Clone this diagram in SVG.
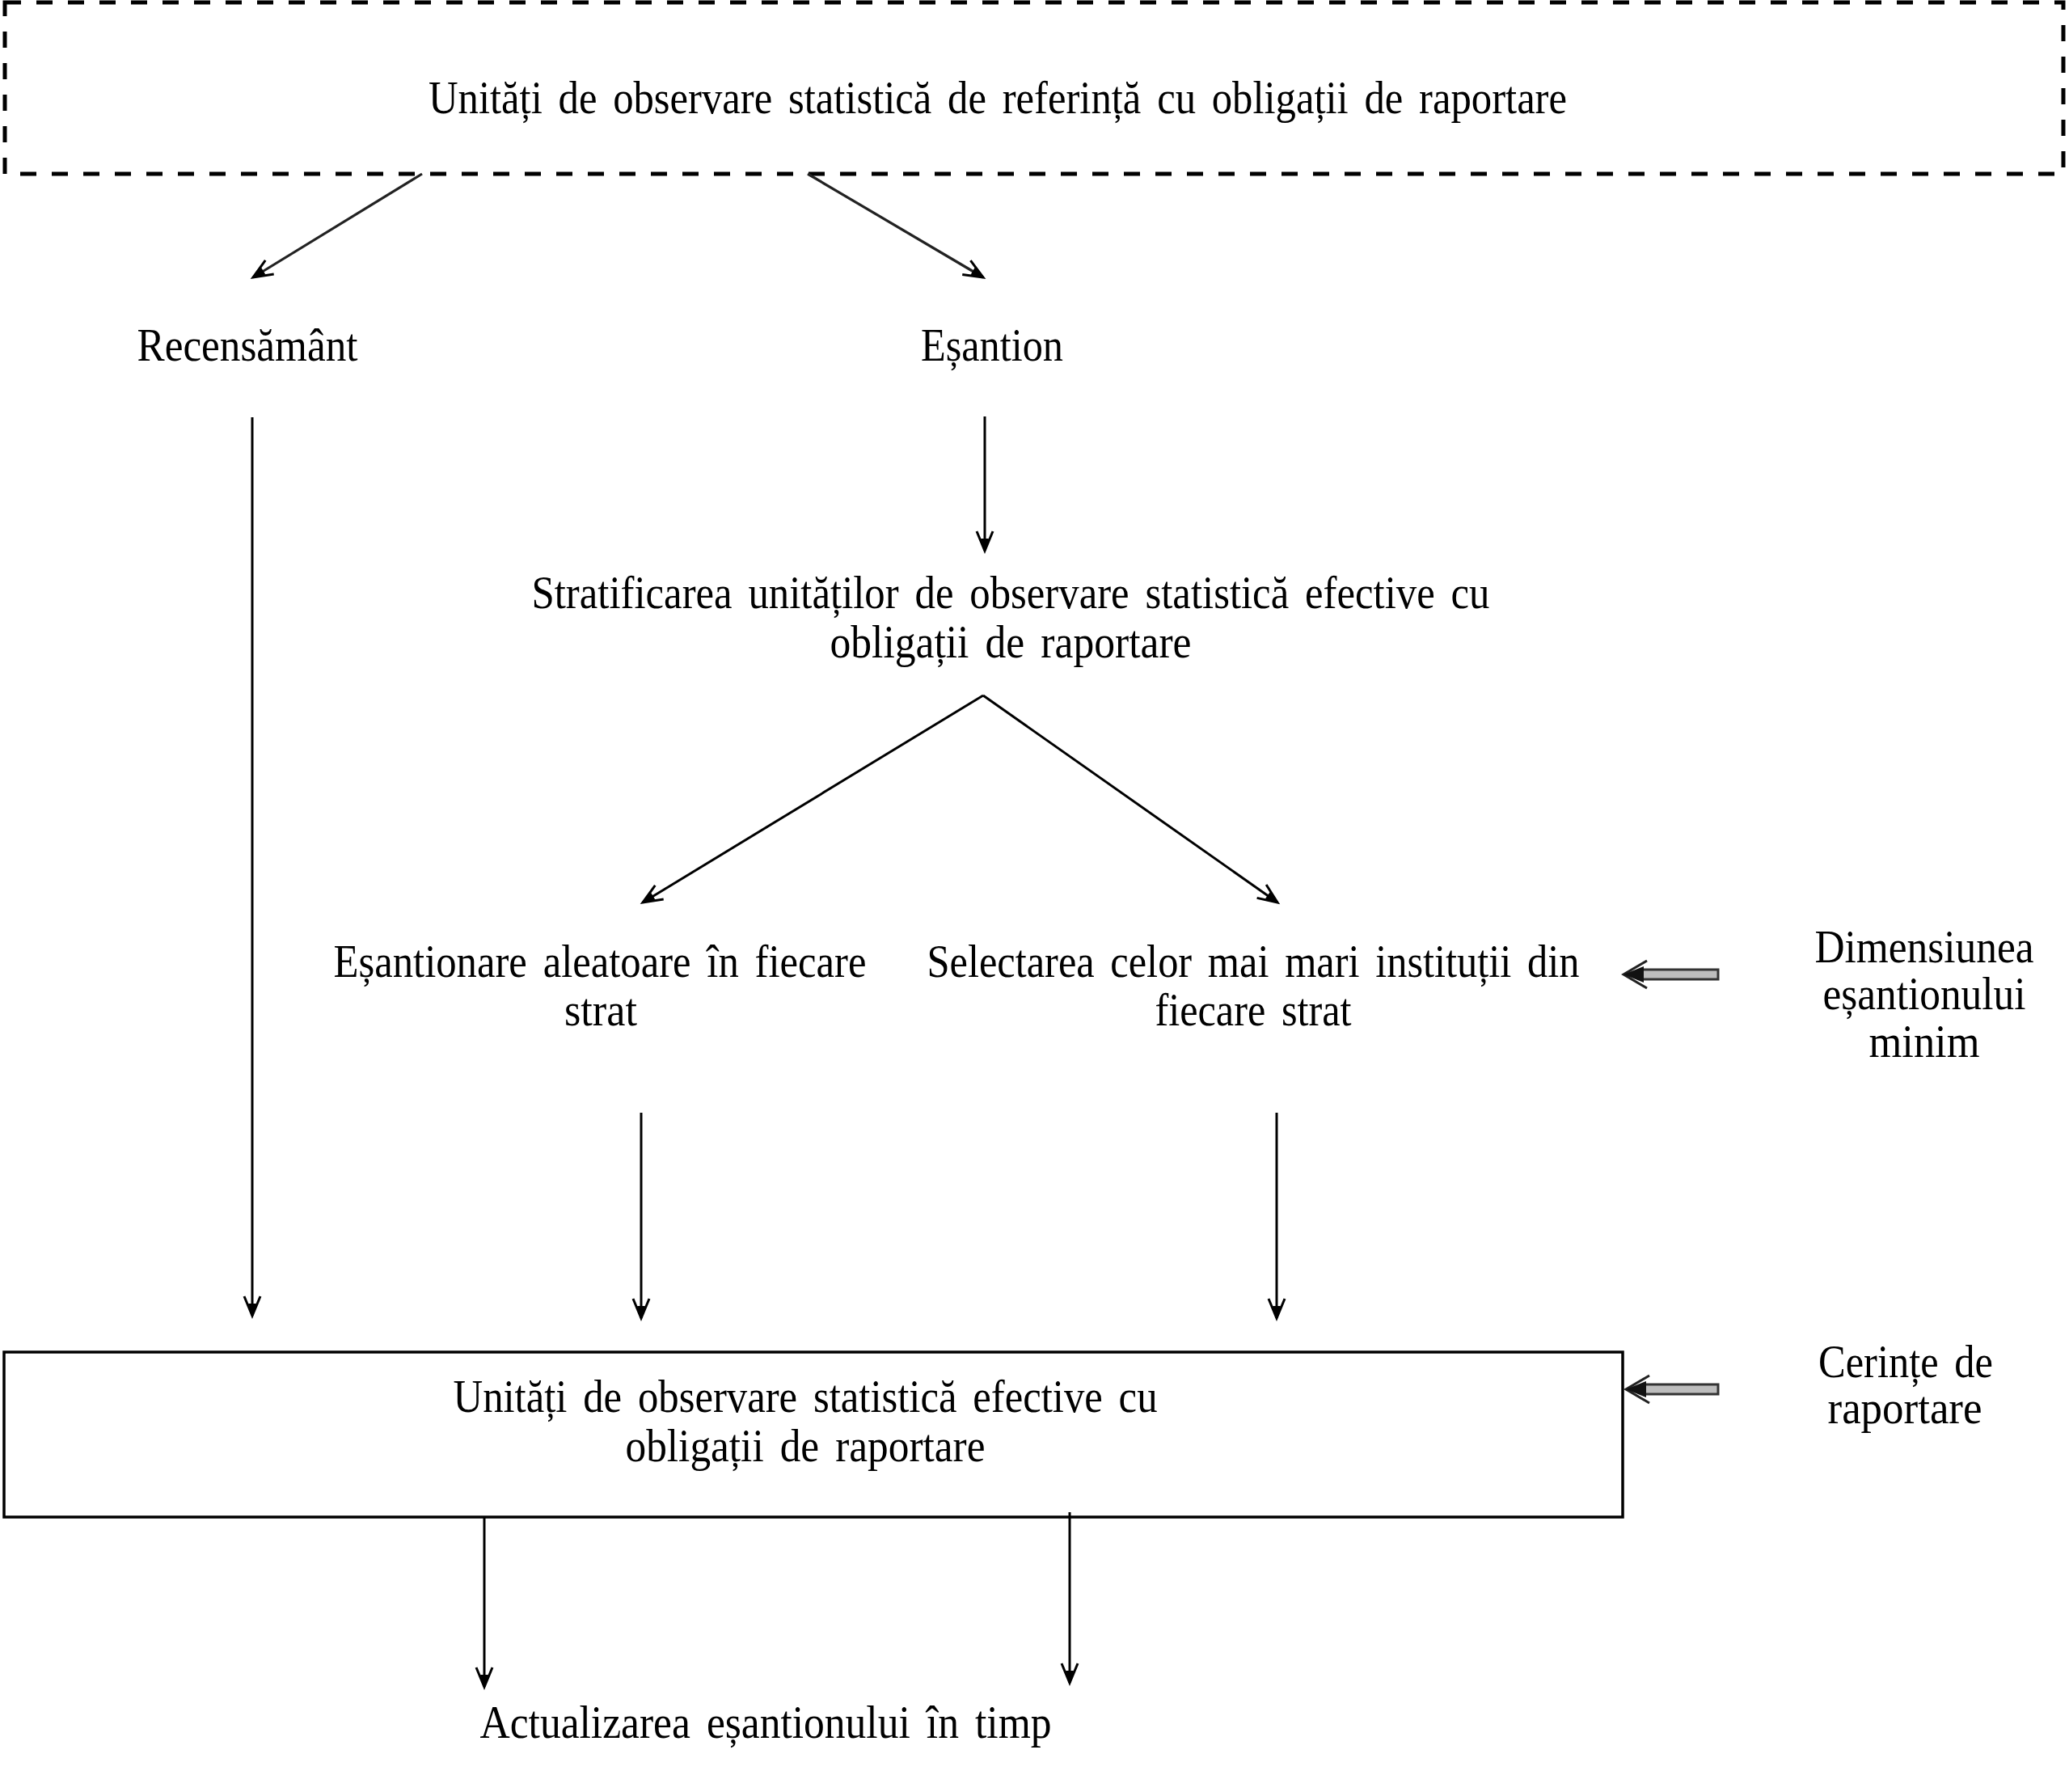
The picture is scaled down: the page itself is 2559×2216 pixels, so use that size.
<svg xmlns="http://www.w3.org/2000/svg" width="2559" height="2216" viewBox="0 0 2559 2216">
<style>
  text { font-family: "Liberation Serif", "Times New Roman", serif; font-size: 57px; fill: #000; text-anchor: middle; word-spacing: 8px; }
  .conn { stroke: #000; stroke-width: 3; fill: none; }
  .diag { stroke: #222; stroke-width: 3.2; fill: none; }
  .box { fill: #fff; stroke: #000; stroke-width: 3.5; }
  .dbox { fill: none; stroke: #000; stroke-width: 5; stroke-dasharray: 20 19; }
  .shaft { fill: #bdbdbd; stroke: #333; stroke-width: 3; }
  .dhead { fill: none; stroke: #222; stroke-width: 3; }
</style>
<defs>
  <marker id="arr" markerUnits="userSpaceOnUse" markerWidth="40" markerHeight="40" refX="0" refY="0" orient="auto" overflow="visible">
    <path d="M-24,-10 L0,0 L-24,10" fill="none" stroke="#000" stroke-width="3"/>
    <path d="M-15,-5 L0,0 L-15,5 Z" fill="#000"/>
  </marker>
</defs>
<rect width="2559" height="2216" fill="#fff"/>

<g id="node-reference-units">
  <rect class="dbox" x="6" y="3" width="2546" height="212"/>
  <text x="1234" y="140" textLength="1408" lengthAdjust="spacingAndGlyphs">Unități de observare statistică de referință cu obligații de raportare</text>
</g>
<g id="node-census">
  <text x="306" y="446" textLength="273" lengthAdjust="spacingAndGlyphs">Recensământ</text>
</g>
<g id="node-sample">
  <text x="1227" y="446" textLength="176" lengthAdjust="spacingAndGlyphs">Eșantion</text>
</g>
<g id="node-stratification">
  <text x="1250" y="752" textLength="1185" lengthAdjust="spacingAndGlyphs">Stratificarea unităților de observare statistică efective cu</text>
  <text x="1250" y="813" textLength="447" lengthAdjust="spacingAndGlyphs">obligații de raportare</text>
</g>
<g id="node-random-sampling">
  <text x="742" y="1208" textLength="659" lengthAdjust="spacingAndGlyphs">Eșantionare aleatoare în fiecare</text>
  <text x="743" y="1268" textLength="90" lengthAdjust="spacingAndGlyphs">strat</text>
</g>
<g id="node-largest">
  <text x="1550" y="1208" textLength="807" lengthAdjust="spacingAndGlyphs">Selectarea celor mai mari instituții din</text>
  <text x="1550" y="1268" textLength="243" lengthAdjust="spacingAndGlyphs">fiecare strat</text>
</g>
<g id="node-min-size">
  <text x="2380" y="1190" textLength="271" lengthAdjust="spacingAndGlyphs">Dimensiunea</text>
  <text x="2380" y="1248" textLength="251" lengthAdjust="spacingAndGlyphs">eșantionului</text>
  <text x="2380" y="1307" textLength="137" lengthAdjust="spacingAndGlyphs">minim</text>
</g>
<g id="node-requirements">
  <text x="2357" y="1703" textLength="216" lengthAdjust="spacingAndGlyphs">Cerințe de</text>
  <text x="2356" y="1760" textLength="191" lengthAdjust="spacingAndGlyphs">raportare</text>
</g>
<g id="node-actual-units">
  <rect class="box" x="5" y="1672" width="2002" height="204"/>
  <text x="996" y="1746" textLength="871" lengthAdjust="spacingAndGlyphs">Unități de observare statistică efective cu</text>
  <text x="996" y="1807" textLength="445" lengthAdjust="spacingAndGlyphs">obligații de raportare</text>
</g>
<g id="node-update">
  <text x="947" y="2149" textLength="707" lengthAdjust="spacingAndGlyphs">Actualizarea eșantionului în timp</text>
</g>

<g id="connectors">
  <line class="diag" x1="522" y1="215" x2="313" y2="343" marker-end="url(#arr)"/>
  <line class="diag" x1="999" y1="215" x2="1216" y2="343" marker-end="url(#arr)"/>
  <line class="conn" x1="312" y1="516" x2="312" y2="1627" marker-end="url(#arr)"/>
  <line class="conn" x1="1218" y1="515" x2="1218" y2="681" marker-end="url(#arr)"/>
  <line class="conn" x1="1216" y1="860" x2="795" y2="1116" marker-end="url(#arr)"/>
  <line class="conn" x1="1216" y1="860" x2="1580" y2="1116" marker-end="url(#arr)"/>
  <line class="conn" x1="793" y1="1376" x2="793" y2="1630" marker-end="url(#arr)"/>
  <line class="conn" x1="1579" y1="1376" x2="1579" y2="1630" marker-end="url(#arr)"/>
  <line class="conn" x1="599" y1="1876" x2="599" y2="2086" marker-end="url(#arr)"/>
  <line class="conn" x1="1323" y1="1870" x2="1323" y2="2081" marker-end="url(#arr)"/>
  <g id="double-arrow-min-size">
    <rect class="shaft" x="2030" y="1199" width="95" height="12"/>
    <path class="dhead" d="M2037,1188 L2008,1205 L2037,1222"/>
    <path d="M2008,1205 L2033,1195 L2033,1215 Z" fill="#111"/>
  </g>
  <g id="double-arrow-requirements">
    <rect class="shaft" x="2033" y="1712" width="92" height="12"/>
    <path class="dhead" d="M2040,1701 L2011,1718 L2040,1735"/>
    <path d="M2011,1718 L2036,1708 L2036,1728 Z" fill="#111"/>
  </g>
</g>
</svg>
